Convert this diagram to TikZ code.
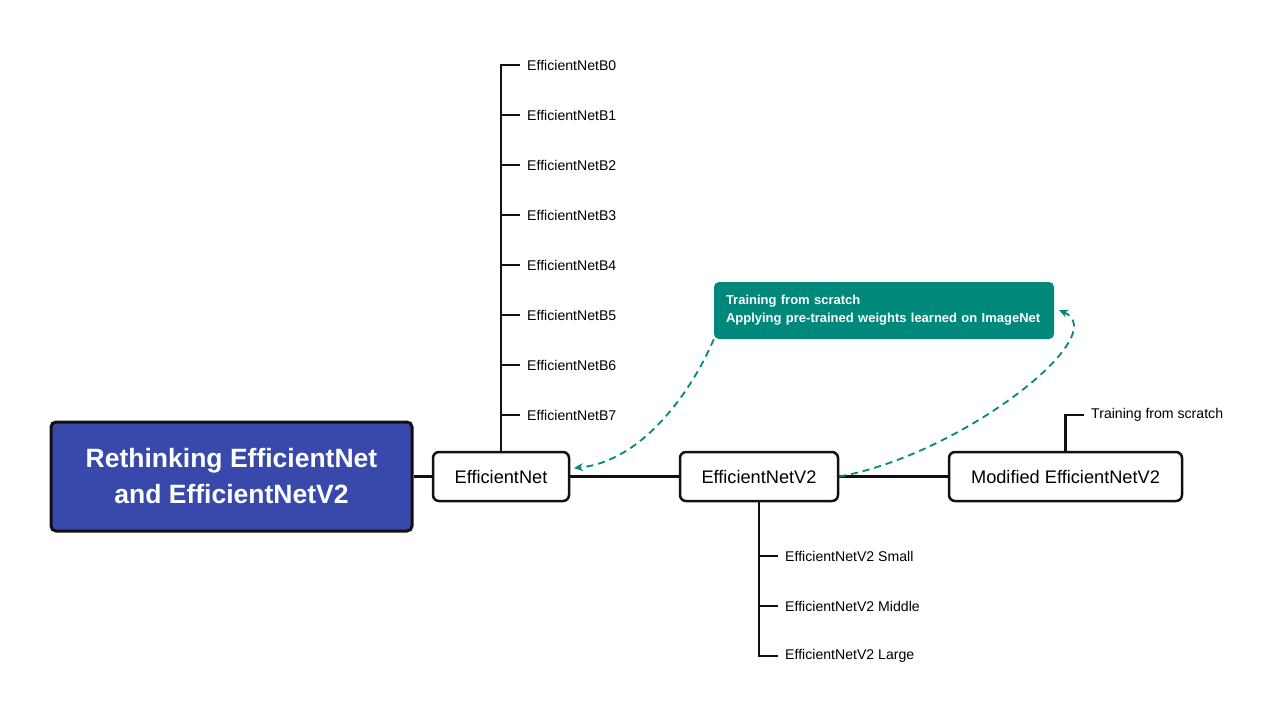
\documentclass[tikz,border=0pt]{standalone}
\usepackage{fontspec}
\setmainfont{Liberation Sans}
\usetikzlibrary{arrows.meta}
\definecolor{rootblue}{HTML}{3949AB}
\definecolor{tealc}{HTML}{00897B}
\definecolor{ink}{HTML}{111111}
\begin{document}
\begin{tikzpicture}[x=1pt,y=-1pt,
  rootbox/.style={draw=ink,line width=3pt,fill=rootblue,rounded corners=5pt,minimum width=361pt,minimum height=109pt,align=center,text=white,font=\fontsize{26.5}{36}\selectfont\bfseries},
  mainbox/.style={draw=ink,line width=2.5pt,fill=white,rounded corners=6pt,minimum height=49pt,inner sep=0pt,font=\fontsize{18.2}{22}\selectfont},
  leaf/.style={anchor=west,inner xsep=7pt,inner ysep=2pt,font=\fontsize{14.1}{16}\selectfont},
  link/.style={draw=ink,line width=2.5pt},
  notebox/.style={fill=tealc,rounded corners=5pt,text=white,align=left,minimum height=57pt,text width=316pt,inner xsep=12pt,font=\fontsize{13}{18}\selectfont\bfseries},
  dasharrow/.style={draw=tealc,line width=1.8pt,dash pattern=on 7pt off 5pt,-{Stealth[length=9pt,width=8pt]}}
]
\useasboundingbox (0,0) rectangle (1285,721);
\fill[white] (0,0) rectangle (1285,721);

\node[rootbox] (root) at (231.5,476.5) {Rethinking EfficientNet\\and EfficientNetV2};
\node[mainbox,minimum width=136pt] (en) at (501,476.5) {EfficientNet};
\node[mainbox,minimum width=158pt] (v2) at (759,476.5) {EfficientNetV2};
\node[mainbox,minimum width=233pt] (mod) at (1065.5,476.5) {Modified EfficientNetV2};

\draw[link] (root) -- (en);
\draw[link] (en) -- (v2);
\draw[link] (v2) -- (mod);

% EfficientNet leaves
\foreach \i in {0,...,7}{
  \node[leaf] (b\i) at (520,65+50*\i) {EfficientNetB\i};
}
\draw[link] (en.north) -- (en.north |- b0.west) -- (b0.west);
\foreach \i in {1,...,7}{
  \draw[link] (en.north |- b\i.west) -- (b\i.west);
}

% EfficientNetV2 leaves
\node[leaf] (vs) at (778,556) {EfficientNetV2 Small};
\node[leaf] (vm) at (778,606) {EfficientNetV2 Middle};
\node[leaf] (vl) at (778,656) {EfficientNetV2 Large};
\draw[link] (v2.south) -- (v2.south |- vl.west) -- (vl.west);
\draw[link] (v2.south |- vs.west) -- (vs.west);
\draw[link] (v2.south |- vm.west) -- (vm.west);

% Modified leaf
\node[leaf] (ms) at (1084,415) {Training from scratch};
\draw[link] (mod.north) -- (mod.north |- ms.west) -- (ms.west);

% note box
\node[notebox] (note) at (884,310.5) {Training from scratch\\Applying pre-trained weights learned on ImageNet};
\coordinate (enin) at (574,468);
\coordinate (notein) at (1059,310);
\draw[dasharrow] (note.south west) .. controls (690,395) and (640,462) .. (enin);
\draw[dasharrow] (v2.east) .. controls (960,455) and (1115,335) .. (notein);
\end{tikzpicture}
\end{document}
